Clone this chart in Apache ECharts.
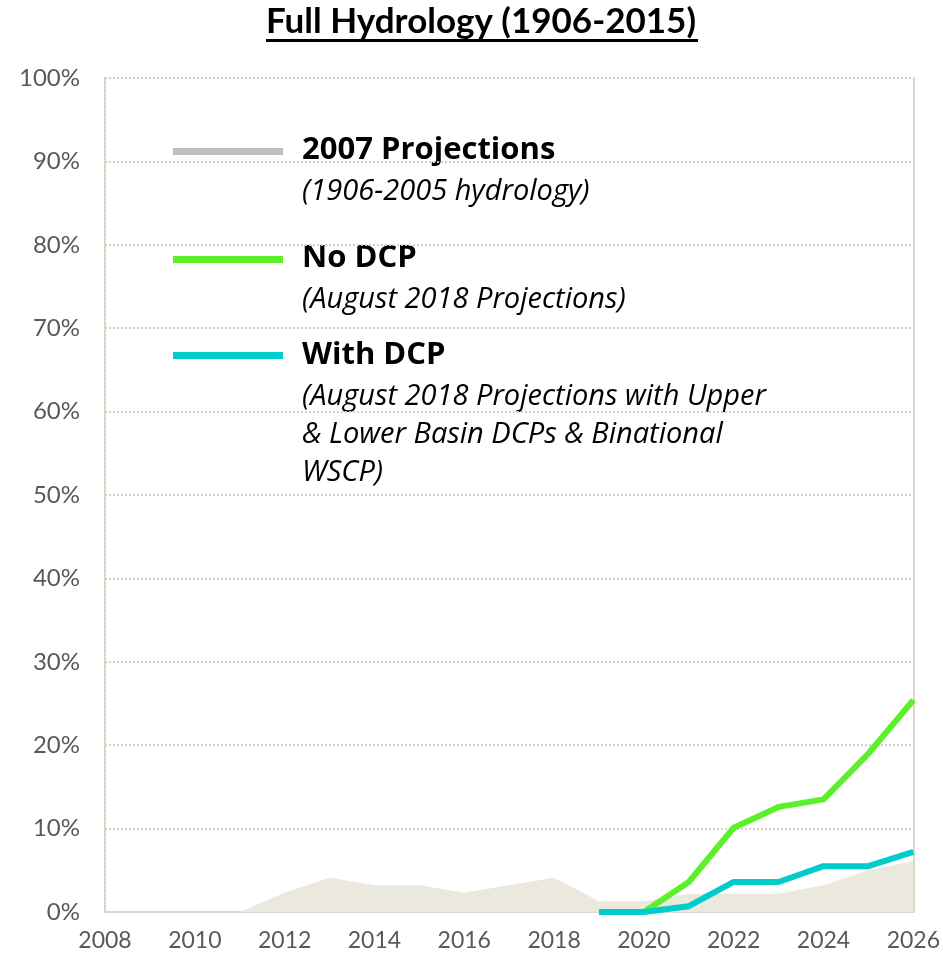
<!DOCTYPE html>
<html>
<head>
<meta charset="utf-8">
<script src="https://cdn.jsdelivr.net/npm/echarts@6/dist/echarts.min.js"></script>
<style>
  html, body { margin: 0; padding: 0; background: #fff; }
  #chart { width: 943px; height: 954px; }
</style>
</head>
<body>
<div id="chart"></div>
<script>
// years on the x axis
const years = [2008, 2009, 2010, 2011, 2012, 2013, 2014, 2015, 2016, 2017, 2018, 2019, 2020, 2021, 2022, 2023, 2024, 2025, 2026];
// 2007 projections (shaded area), percent
const proj2007 = [0, 0, 0, 0, 2.3, 4.1, 3.2, 3.2, 2.3, 3.2, 4.1, 1.3, 1.3, 2.2, 2.2, 2.2, 3.2, 5.0, 6.1];
// August 2018, no DCP
const noDcpYears = [2019, 2020, 2021, 2022, 2023, 2024, 2025, 2026];
const noDcp = [0, 0, 3.6, 10.1, 12.6, 13.5, 19.0, 25.4];
// August 2018, with DCP
const withDcp = [0, 0, 0.7, 3.6, 3.6, 5.5, 5.5, 7.2];

const yTicks = [0, 10, 20, 30, 40, 50, 60, 70, 80, 90, 100];

const FONT = "Lato, 'Open Sans', sans-serif";
const LEG_FONT = "'Open Sans', Lato, sans-serif";
const gridColor = "#d6d0bc";

const chart = echarts.init(document.getElementById("chart"));

const pairs = (xs, ys) => xs.map((x, i) => [x, ys[i]]);

// legend entries drawn by hand (layout is not a standard legend)
const legendItems = [
  { y: 151, ty: 150, color: "#bfbfbf", name: "2007 Projections", sub: ["(1906-2005 hydrology)"] },
  { y: 259, ty: 258, color: "#5af02a", name: "No DCP", sub: ["(August 2018 Projections)"] },
  { y: 355, ty: 355, color: "#00cccc", name: "With DCP",
    sub: ["(August 2018 Projections with Upper", "& Lower Basin DCPs & Binational", "WSCP)"] },
];

const graphic = [
  {
    type: "text",
    x: 481,
    y: 22,
    style: {
      text: "Full Hydrology (1906-2015)", font: "bold 35px " + FONT, fill: "#000",
      align: "center", verticalAlign: "middle",
    },
  },
  {
    type: "rect",
    shape: { x: 266, y: 39, width: 432, height: 3 },
    style: { fill: "#000" },
  },
];
legendItems.forEach((it) => {
  graphic.push({
    type: "rect",
    shape: { x: 173, y: it.y - 3, width: 110, height: 7 },
    style: { fill: it.color },
  });
  graphic.push({
    type: "text",
    x: 302,
    y: it.ty,
    style: { text: it.name, font: "bold 31px " + LEG_FONT, fill: "#000", verticalAlign: "middle" },
  });
  it.sub.forEach((s, i) => {
    graphic.push({
      type: "text",
      x: 302,
      y: it.ty + 42 + i * 38,
      style: { text: s, font: "italic 29px " + LEG_FONT, fill: "#000", verticalAlign: "middle" },
    });
  });
});

chart.setOption({
  animation: false,
  grid: { left: 105, right: 29, top: 78, bottom: 42 },
  xAxis: {
    type: "value",
    min: 2008,
    max: 2026,
    interval: 2,
    axisLine: { show: true, onZero: false, lineStyle: { color: "#d9d9d9", width: 2 } },
    axisTick: { show: false },
    splitLine: { show: false },
    axisLabel: {
      color: "#595959", fontSize: 23, fontFamily: FONT, margin: 17,
      formatter: (v) => String(v),
    },
  },
  yAxis: [
    {
      type: "value",
      min: 0,
      max: 100,
      interval: 10,
      axisLine: { show: true, lineStyle: { color: gridColor, type: "dotted", width: 2 } },
      axisTick: { show: false },
      splitLine: { show: true, lineStyle: { color: gridColor, type: "dotted", width: 2 } },
      axisLabel: {
        color: "#595959", fontSize: 24, fontFamily: FONT, margin: 25,
        formatter: (v) => (yTicks.includes(v) ? v + "%" : ""),
      },
    },
    {
      type: "value",
      position: "right",
      min: 0,
      max: 100,
      interval: 10,
      axisLine: { show: true, lineStyle: { color: gridColor, type: "dotted", width: 2 } },
      axisTick: { show: false },
      axisLabel: { show: false },
      splitLine: { show: false },
    },
  ],
  series: [
    {
      name: "2007 Projections",
      type: "line",
      data: pairs(years, proj2007),
      symbol: "none",
      lineStyle: { width: 0 },
      areaStyle: { color: "#ebe8dd", opacity: 1 },
      z: 1,
    },
    {
      name: "No DCP",
      type: "line",
      data: pairs(noDcpYears, noDcp),
      symbol: "none",
      lineStyle: { color: "#5af02a", width: 6 },
      z: 3,
    },
    {
      name: "With DCP",
      type: "line",
      data: pairs(noDcpYears, withDcp),
      symbol: "none",
      lineStyle: { color: "#00cccc", width: 6 },
      z: 4,
    },
  ],
  graphic,
});
</script>
</body>
</html>
